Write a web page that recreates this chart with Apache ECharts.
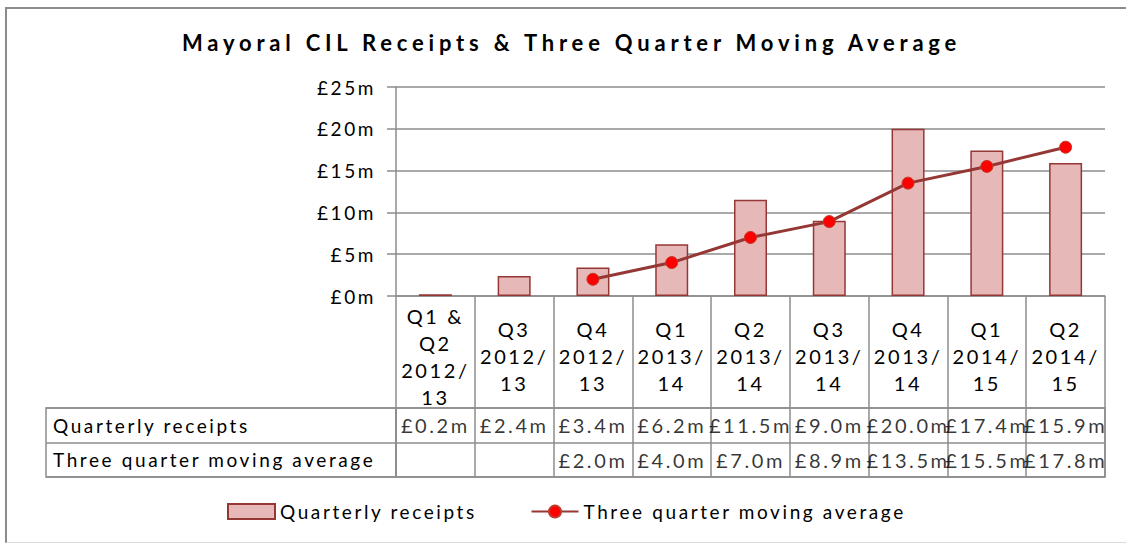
<!DOCTYPE html>
<html>
<head>
<meta charset="utf-8">
<script src="https://cdn.jsdelivr.net/npm/echarts@6/dist/echarts.min.js"></script>
<style>
  html, body { margin: 0; padding: 0; background: #ffffff; }
  #wrap { position: relative; width: 1126px; height: 543px; }
  #frame { position: absolute; left: 5px; top: 7px; width: 1130px; height: 533px;
           border-top: 2px solid #8c8c8c; border-left: 2px solid #8c8c8c; border-bottom: 1px solid #d9d9d9; }
  #chart { position: absolute; left: 0; top: 0; width: 1126px; height: 543px; }
  #chart svg text { letter-spacing: 2.6px; }
  #chart svg text[style*="bold"], #chart svg text[font-weight="bold"] { letter-spacing: 4.8px; }
</style>
</head>
<body>
<div id="wrap">
  <div id="frame"></div>
  <div id="chart"></div>
</div>
<script>
// ---- data ----
const categories = ['Q1 &\nQ2\n2012/\n13', 'Q3\n2012/\n13', 'Q4\n2012/\n13', 'Q1\n2013/\n14', 'Q2\n2013/\n14',
                    'Q3\n2013/\n14', 'Q4\n2013/\n14', 'Q1\n2014/\n15', 'Q2\n2014/\n15'];
const quarterlyReceipts = [0.2, 2.4, 3.4, 6.2, 11.5, 9.0, 20.0, 17.4, 15.9];
const movingAverage = [null, null, 2.0, 4.0, 7.0, 8.9, 13.5, 15.5, 17.8];
const rowLabels = ['Quarterly receipts', 'Three quarter moving average'];
const seriesNames = ['Quarterly receipts', 'Three quarter moving average'];
const yTicks = [0, 5, 10, 15, 20, 25];

const FONT = 'Lato';
const GRID_LINE = '#8c8c8c';
const fmt = v => '£' + v.toFixed(1) + 'm';

// table cells built from the data arrays
const tableCells = [];
quarterlyReceipts.forEach((v, i) => { if (v != null) tableCells.push([i, 0, v]); });
movingAverage.forEach((v, i) => { if (v != null) tableCells.push([i, 1, v]); });

const chart = echarts.init(document.getElementById('chart'), null, { renderer: 'svg', width: 1126, height: 543 });

chart.setOption({
  backgroundColor: 'transparent',
  animation: false,
  title: {
    text: 'Mayoral CIL Receipts & Three Quarter Moving Average',
    left: 182, top: 31, padding: 0,
    textStyle: { fontFamily: FONT, fontWeight: 'bold', fontSize: 22, color: '#000' }
  },
  legend: {
    left: 227, top: 502, padding: 0,
    itemWidth: 47, itemHeight: 15, itemGap: 100,
    textStyle: { fontFamily: FONT, fontSize: 19, color: '#000' },
    data: [
      { name: seriesNames[0], icon: 'rect' },
      { name: seriesNames[1] }
    ]
  },
  grid: [
    { left: 396, right: 21, top: 87, bottom: 543 - 296 },
    { left: 46, width: 350, top: 408, height: 69, show: true, borderColor: GRID_LINE, borderWidth: 1.5, backgroundColor: 'transparent' },
    { left: 396, right: 21, top: 408, height: 69, show: true, borderColor: GRID_LINE, borderWidth: 1.5, backgroundColor: 'transparent' }
  ],
  xAxis: [
    {
      type: 'category', gridIndex: 0, data: categories, boundaryGap: true,
      axisLine: { lineStyle: { color: GRID_LINE, width: 1.5 } },
      axisTick: { show: true, length: 112, lineStyle: { color: GRID_LINE, width: 1.5 } },
      axisLabel: { fontFamily: FONT, fontSize: 20, color: '#000', lineHeight: 27, margin: 60,
                   verticalAlign: 'middle', align: 'center', interval: 0 }
    },
    { type: 'value', gridIndex: 1, show: false, min: 0, max: 1 },
    {
      type: 'category', gridIndex: 2, data: categories, boundaryGap: true,
      axisLine: { show: false }, axisTick: { show: false }, axisLabel: { show: false },
      splitLine: { show: true, interval: 0, lineStyle: { color: GRID_LINE, width: 1.5 } }
    }
  ],
  yAxis: [
    {
      type: 'value', gridIndex: 0, min: yTicks[0], max: yTicks[yTicks.length - 1], interval: 5,
      axisLine: { show: true, lineStyle: { color: GRID_LINE, width: 1.5 } },
      axisTick: { show: true, length: 9, lineStyle: { color: GRID_LINE, width: 1.5 } },
      splitLine: { show: true, lineStyle: { color: GRID_LINE, width: 1.5 } },
      axisLabel: { fontFamily: FONT, fontSize: 19, color: '#000', margin: 20, formatter: v => '£' + v + 'm' }
    },
    {
      type: 'category', gridIndex: 1, data: rowLabels, inverse: true,
      axisLine: { show: false }, axisTick: { show: false },
      splitLine: { show: true, interval: 0, lineStyle: { color: GRID_LINE, width: 1.5 } },
      axisLabel: { inside: true, align: 'left', margin: 7, fontFamily: FONT, fontSize: 19, color: '#000', padding: [5, 0, 0, 0] }
    },
    {
      type: 'category', gridIndex: 2, data: rowLabels, inverse: true,
      axisLine: { show: false }, axisTick: { show: false }, axisLabel: { show: false },
      splitLine: { show: true, interval: 0, lineStyle: { color: GRID_LINE, width: 1.5 } }
    }
  ],
  series: [
    {
      name: seriesNames[0], type: 'bar', xAxisIndex: 0, yAxisIndex: 0,
      data: quarterlyReceipts, barWidth: 33,
      itemStyle: { color: '#E6B9B8', borderColor: '#953735', borderWidth: 1.5 }
    },
    {
      name: seriesNames[1], type: 'line', xAxisIndex: 0, yAxisIndex: 0,
      data: movingAverage, connectNulls: false,
      symbol: 'circle', symbolSize: 12,
      lineStyle: { color: '#953735', width: 3 },
      itemStyle: { color: '#FF0000', borderColor: '#C0392B', borderWidth: 1 }
    },
    {
      name: 'table', type: 'scatter', xAxisIndex: 2, yAxisIndex: 2,
      data: tableCells, symbolSize: 1, silent: true,
      itemStyle: { color: 'rgba(0,0,0,0)' },
      label: { show: true, position: 'inside', fontFamily: FONT, fontSize: 20, color: '#000',
               padding: [5, 0, 0, 0], formatter: p => fmt(p.value[2]) }
    }
  ]
});
</script>
</body>
</html>
